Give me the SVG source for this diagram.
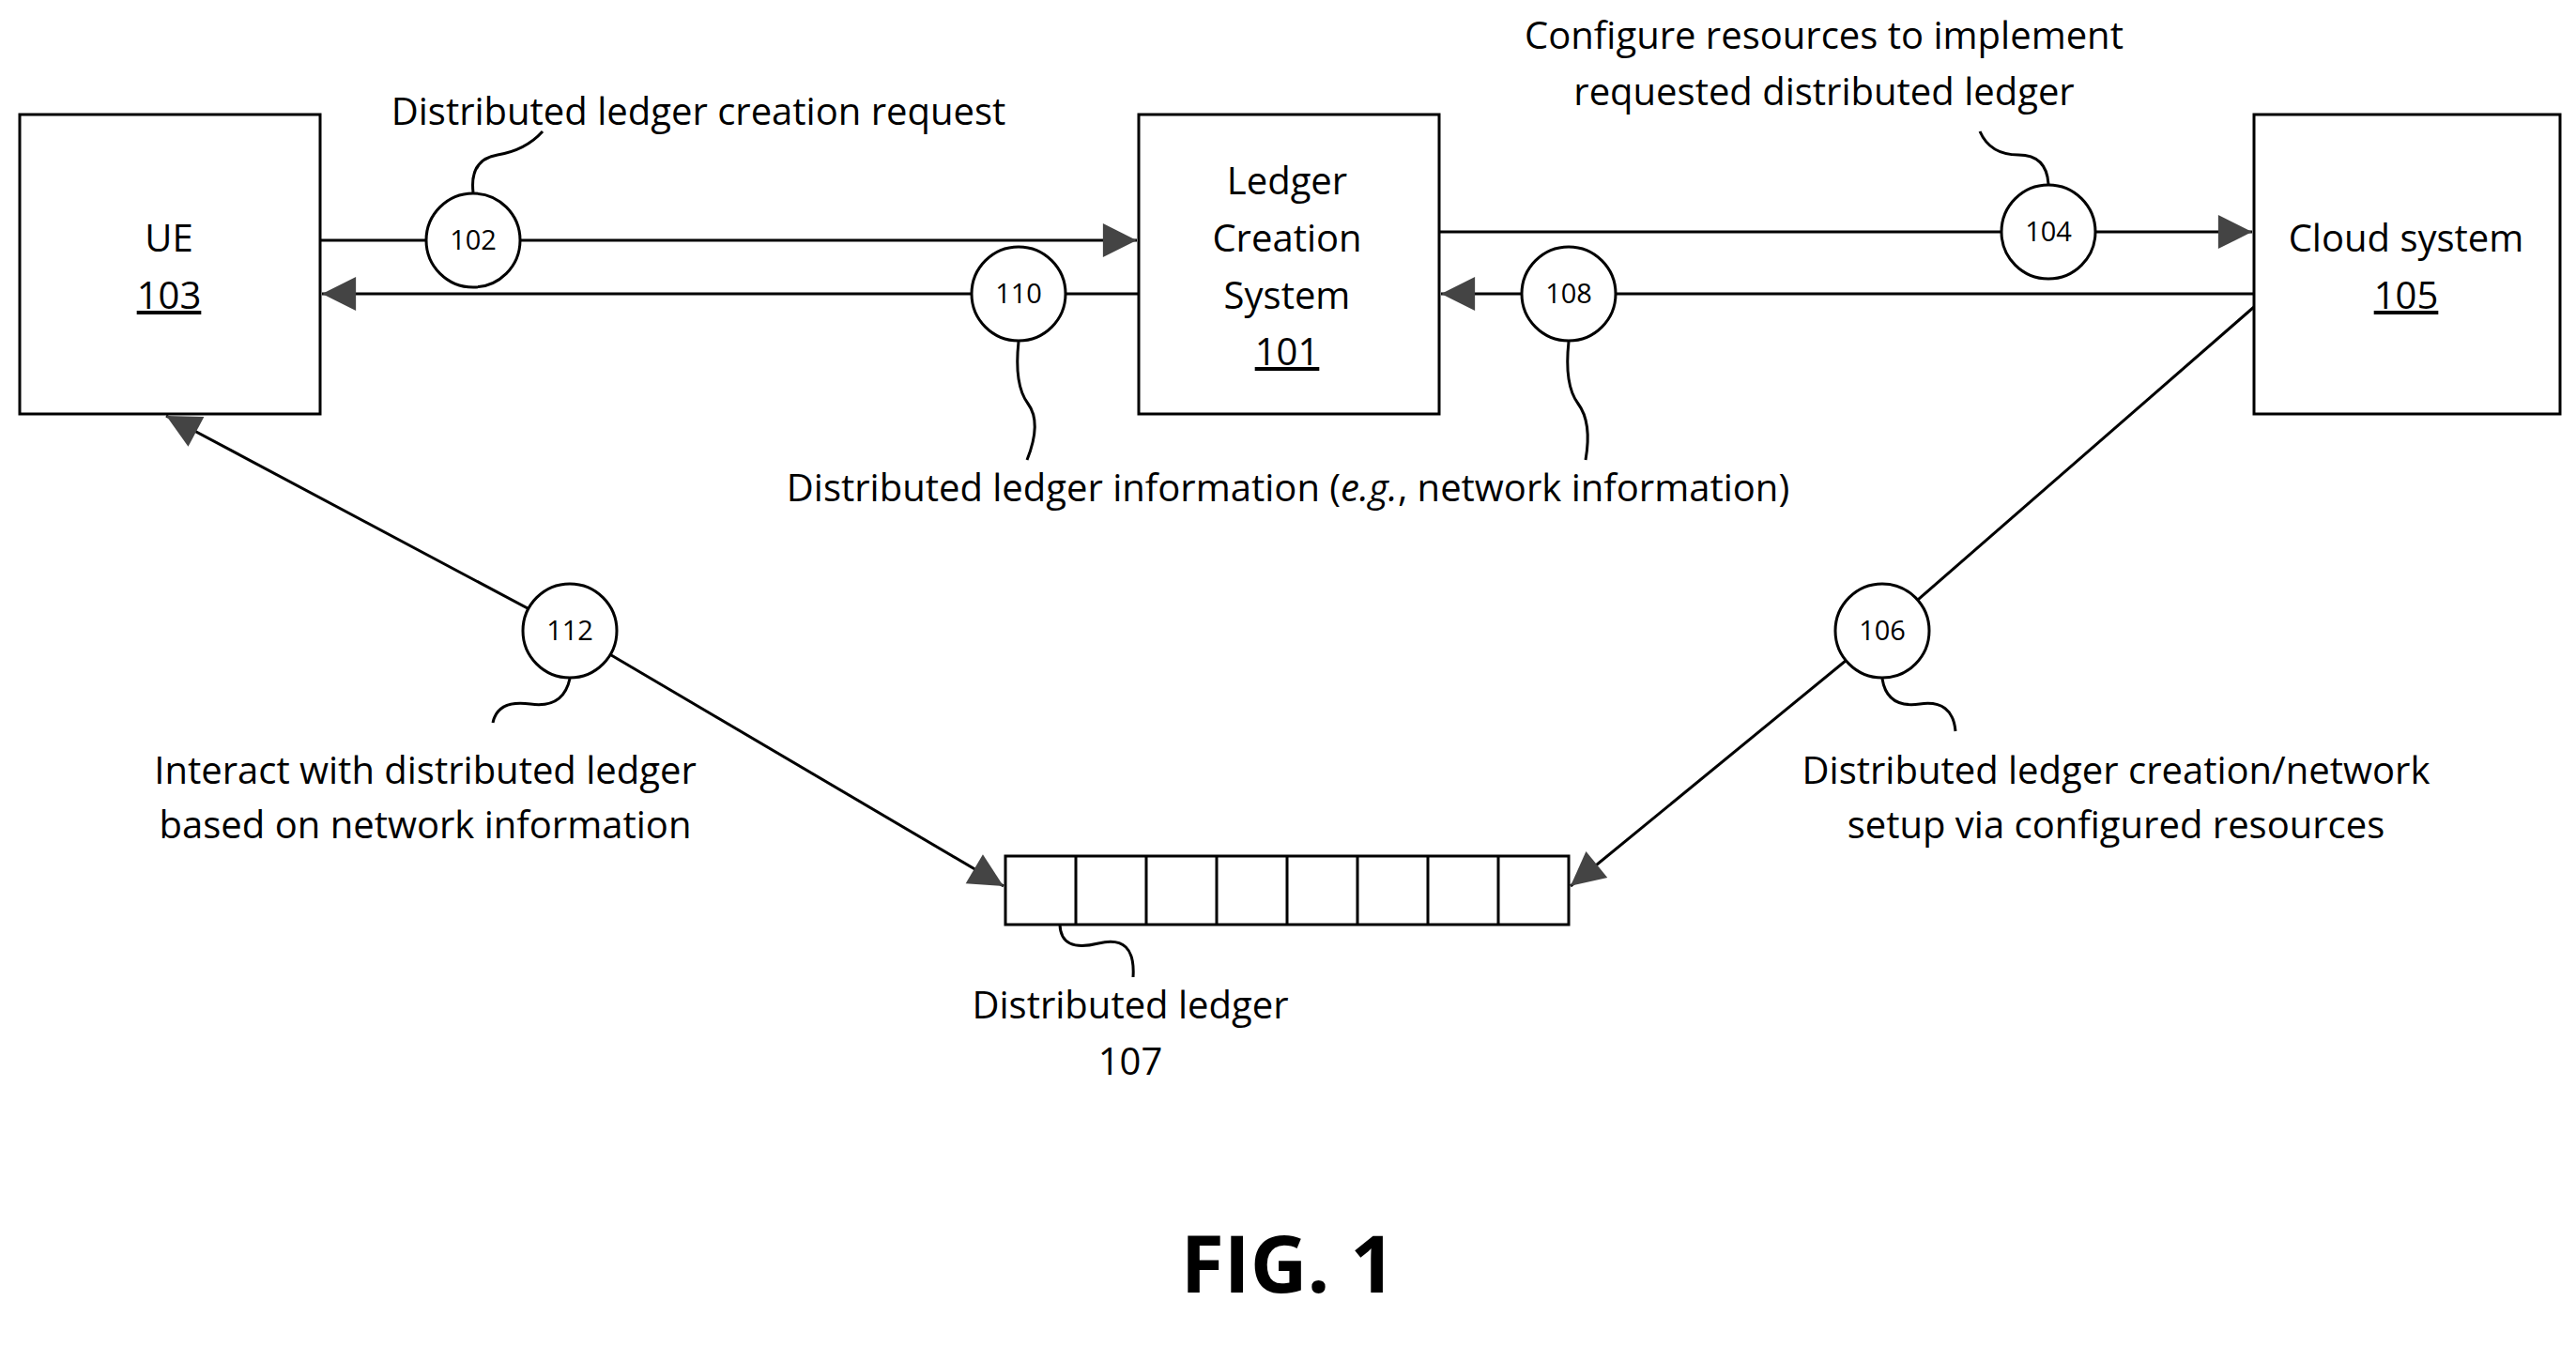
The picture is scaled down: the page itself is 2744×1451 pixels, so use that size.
<svg xmlns="http://www.w3.org/2000/svg" width="2744" height="1451" viewBox="0 0 2744 1451">
<style>
.b{fill:#fff;stroke:#000;stroke-width:3}
.l{fill:none;stroke:#000;stroke-width:3}
.t{font-family:"Open Sans","Liberation Sans",sans-serif;font-size:40px;fill:#000;text-anchor:middle}
.n{font-family:"Open Sans","Liberation Sans",sans-serif;font-size:29px;fill:#000;text-anchor:middle}
</style>
<defs>
<marker id="a" viewBox="0 0 10 10" refX="10" refY="5" markerWidth="12" markerHeight="12" markerUnits="userSpaceOnUse" orient="auto-start-reverse" style="overflow:visible">
<path d="M0,0 L10,5 L0,10 Z" fill="#444" transform="scale(3) translate(-6.7,-3.3)"/>
</marker>
</defs>
<rect width="2744" height="1451" fill="#fff"/>
<g id="connectors">
<line class="l" x1="341" y1="256" x2="1211" y2="256" marker-end="url(#a)"/>
<line class="l" x1="1213" y1="313" x2="343" y2="313" marker-end="url(#a)"/>
<line class="l" x1="1533" y1="247" x2="2399" y2="247" marker-end="url(#a)"/>
<line class="l" x1="2401" y1="313" x2="1535" y2="313" marker-end="url(#a)"/>
<line class="l" x1="607" y1="672" x2="177" y2="443" marker-end="url(#a)"/>
<line class="l" x1="607" y1="672" x2="1069" y2="944" marker-end="url(#a)"/>
<line class="l" x1="2401" y1="327" x2="2005" y2="672"/>
<line class="l" x1="2005" y1="672" x2="1673" y2="944" marker-end="url(#a)"/>
<path class="l" d="M504,205 Q500,170 530,165 T578,140"/>
<path class="l" d="M2182,196 Q2180,165 2150,165 T2109,140"/>
<path class="l" d="M1085,364 Q1080,410 1095,430 T1094,490"/>
<path class="l" d="M1671,364 Q1666,410 1681,430 T1689,490"/>
<path class="l" d="M607,723 Q600,755 565,750 T525,770"/>
<path class="l" d="M2005,723 Q2010,755 2045,750 T2083,779"/>
<path class="l" d="M1129,985 Q1130,1015 1170,1005 T1207,1041"/>
</g>
<g id="ue"><rect class="b" x="21" y="122" width="320" height="319"/>
<text class="t" x="180" y="268">UE</text><text class="t" x="180" y="329" text-decoration="underline">103</text></g>
<g id="lcs"><rect class="b" x="1213" y="122" width="320" height="319"/>
<text class="t" x="1371" y="207">Ledger</text><text class="t" x="1371" y="268">Creation</text><text class="t" x="1371" y="329">System</text><text class="t" x="1371" y="389" text-decoration="underline">101</text></g>
<g id="cloud"><rect class="b" x="2401" y="122" width="326" height="319"/>
<text class="t" x="2563" y="268">Cloud system</text><text class="t" x="2563" y="329" text-decoration="underline">105</text></g>
<g id="ledger">
<rect class="b" x="1071" y="912" width="600" height="73"/>
<path class="l" d="M1146,912V985M1221,912V985M1296,912V985M1371,912V985M1446,912V985M1521,912V985M1596,912V985"/>
<text class="t" x="1204" y="1085">Distributed ledger</text><text class="t" x="1204" y="1145">107</text></g>
<g id="c102"><circle class="b" cx="504" cy="256" r="50"/><text class="n" x="504" y="266">102</text></g>
<g id="c110"><circle class="b" cx="1085" cy="313" r="50"/><text class="n" x="1085" y="323">110</text></g>
<g id="c104"><circle class="b" cx="2182" cy="247" r="50"/><text class="n" x="2182" y="257">104</text></g>
<g id="c108"><circle class="b" cx="1671" cy="313" r="50"/><text class="n" x="1671" y="323">108</text></g>
<g id="c112"><circle class="b" cx="607" cy="672" r="50"/><text class="n" x="607" y="682">112</text></g>
<g id="c106"><circle class="b" cx="2005" cy="672" r="50"/><text class="n" x="2005" y="682">106</text></g>
<g id="labels">
<text class="t" x="744" y="133">Distributed ledger creation request</text>
<text class="t" x="1943" y="52">Configure resources to implement</text>
<text class="t" x="1943" y="112">requested distributed ledger</text>
<text class="t" x="1372" y="534">Distributed ledger information (<tspan font-style="italic">e.g.</tspan>, network information)</text>
<text class="t" x="453" y="835">Interact with distributed ledger</text>
<text class="t" x="453" y="893">based on network information</text>
<text class="t" x="2254" y="835">Distributed ledger creation/network</text>
<text class="t" x="2254" y="893">setup via configured resources</text>
<text class="t" x="1372" y="1377" style="font-size:84px;font-weight:bold">FIG. 1</text>
</g>
</svg>
